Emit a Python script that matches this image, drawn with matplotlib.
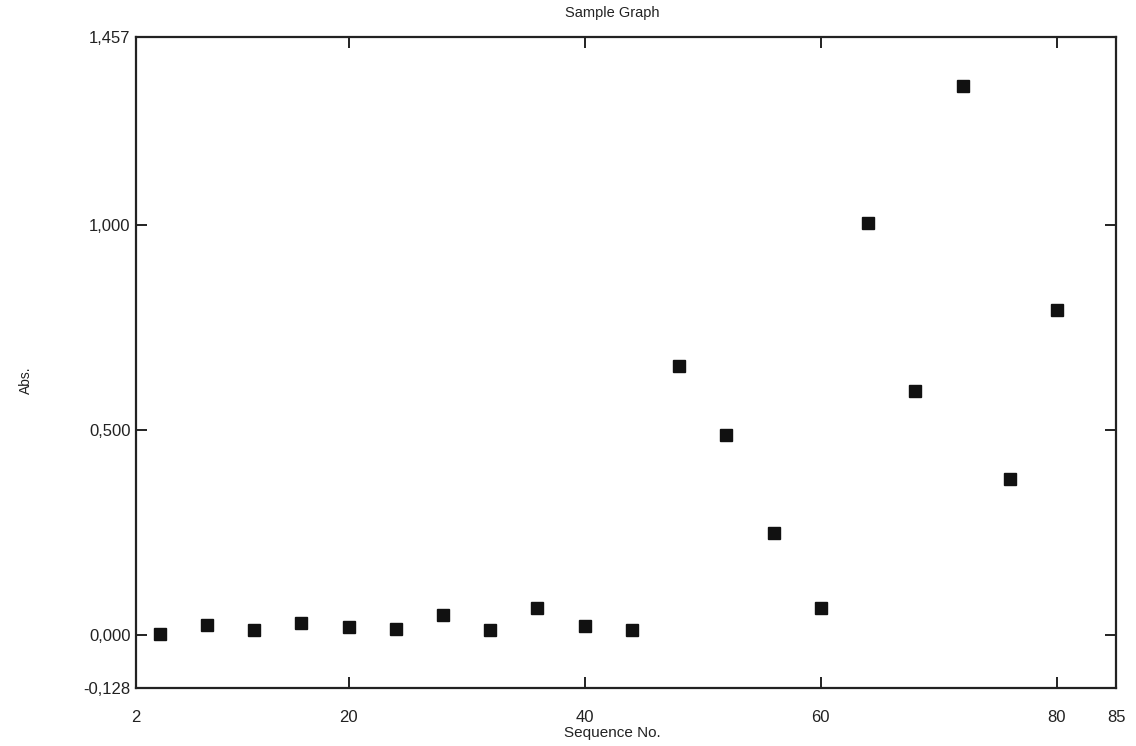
import matplotlib
matplotlib.use('Agg')
import matplotlib.pyplot as plt

plt.rcParams['font.family'] = ['Liberation Sans', 'DejaVu Sans']

# values
seq_no = [4, 8, 12, 16, 20, 24, 28, 32, 36, 40,
          44, 48, 52, 56, 60, 64, 68, 72, 76, 80]
absorb = [0.004, 0.026, 0.014, 0.031, 0.021, 0.016, 0.051, 0.014, 0.066, 0.022,
          0.014, 0.655, 0.488, 0.250, 0.066, 1.003, 0.594, 1.337, 0.381, 0.792]

x_ticks = [2, 20, 40, 60, 80, 85]
x_labels = ['2', '20', '40', '60', '80', '85']
y_ticks = [-0.128, 0.0, 0.5, 1.0, 1.457]
y_labels = ['-0,128', '0,000', '0,500', '1,000', '1,457']

fig = plt.figure(figsize=(11.36, 7.46), dpi=100)
ax = fig.add_axes([0.1197, 0.0777, 0.8627, 0.8727])

ax.plot(seq_no, absorb, 's', color='#111111', ms=8.5, mec='#111111')

ax.set_xlim(2, 85)
ax.set_ylim(-0.128, 1.457)
ax.set_xticks(x_ticks)
ax.set_xticklabels(x_labels)
ax.set_yticks(y_ticks)
ax.set_yticklabels(y_labels)

for sp in ax.spines.values():
    sp.set_linewidth(1.6)
    sp.set_color('#222222')

ax.tick_params(direction='in', length=8, width=1.4, color='#222222',
               top=True, right=True, labelsize=12, labelcolor='#222222')
ax.tick_params(axis='x', pad=16)
ax.tick_params(axis='y', pad=4)

ax.set_xlabel('Sequence No.', fontsize=11, color='#222222')
ax.xaxis.set_label_coords(0.486, -0.058)
ax.set_ylabel('Abs.', fontsize=10, color='#222222')
ax.yaxis.set_label_coords(-0.105, 0.473)

fig.text(0.539, 1 - 13 / 746, 'Sample Graph', ha='center', va='center',
         fontsize=10.5, color='#222222')

plt.savefig('out.png', dpi=100)
plt.close('all')
